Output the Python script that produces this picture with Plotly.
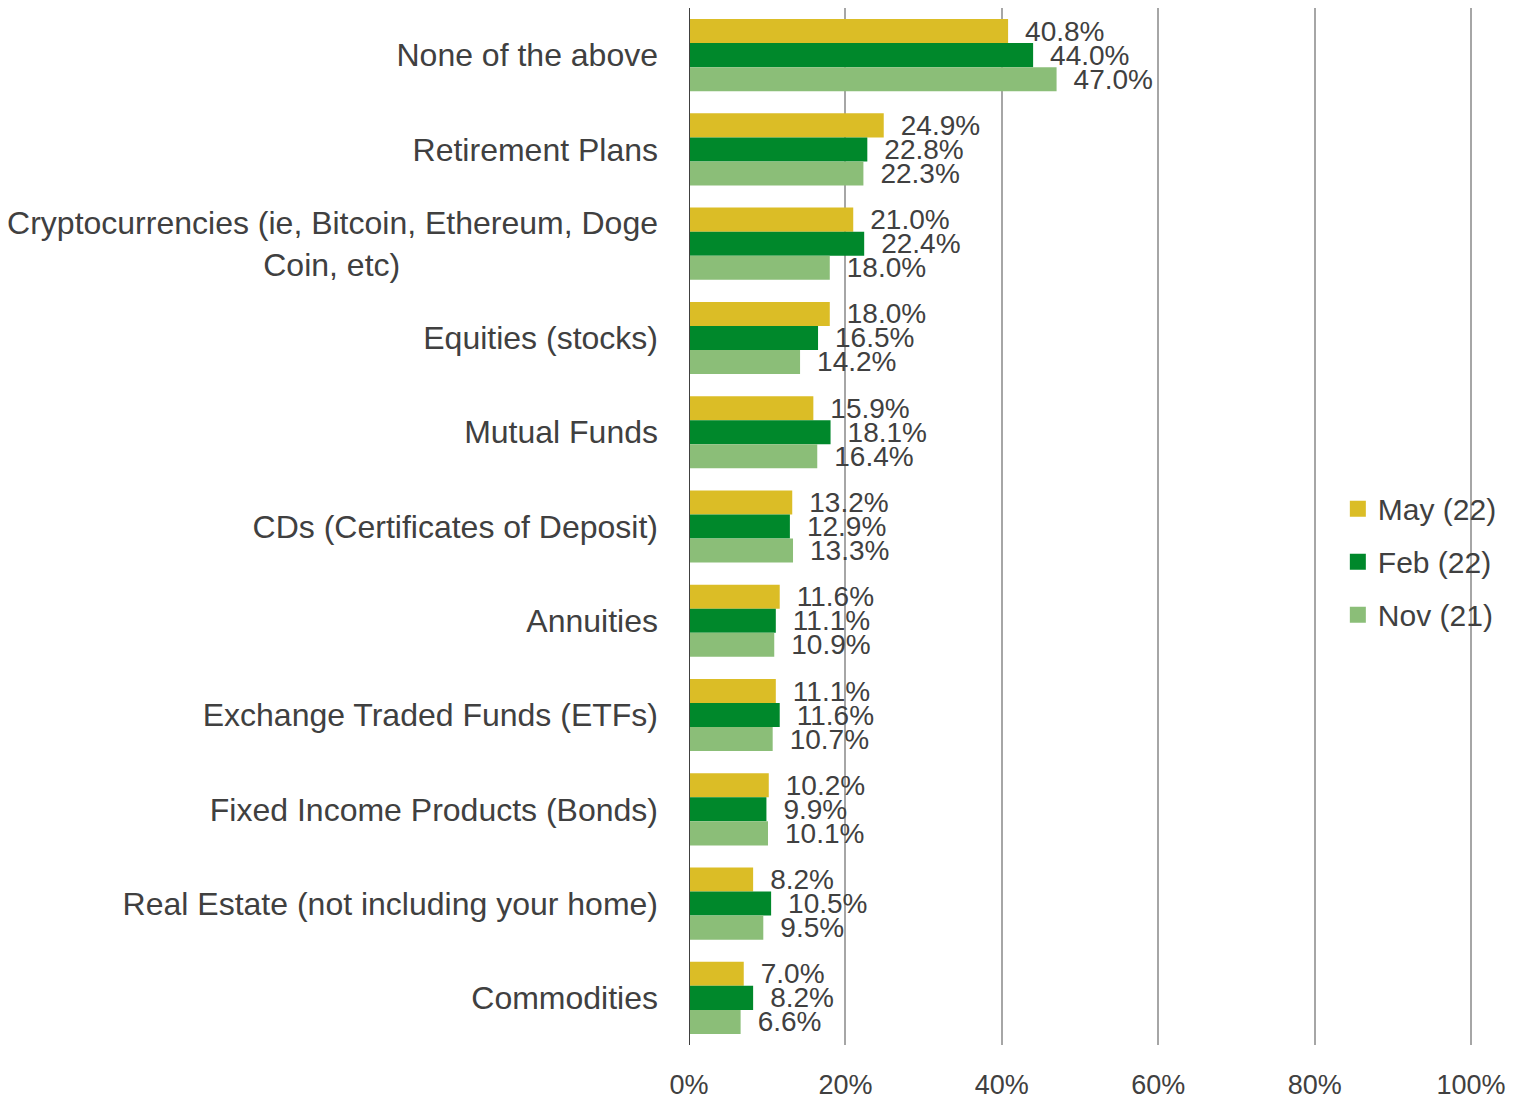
import plotly.graph_objects as go

categories = [
    "None of the above",
    "Retirement Plans",
    "Cryptocurrencies (ie, Bitcoin, Ethereum, Doge<br>Coin, etc)" + " " * 29,
    "Equities (stocks)",
    "Mutual Funds",
    "CDs (Certificates of Deposit)",
    "Annuities",
    "Exchange Traded Funds (ETFs)",
    "Fixed Income Products (Bonds)",
    "Real Estate (not including your home)",
    "Commodities",
]
may_22 = [40.8, 24.9, 21.0, 18.0, 15.9, 13.2, 11.6, 11.1, 10.2, 8.2, 7.0]
feb_22 = [44.0, 22.8, 22.4, 16.5, 18.1, 12.9, 11.1, 11.6, 9.9, 10.5, 8.2]
nov_21 = [47.0, 22.3, 18.0, 14.2, 16.4, 13.3, 10.9, 10.7, 10.1, 9.5, 6.6]
series_names = ["May (22)", "Feb (22)", "Nov (21)"]
colors = ["#DBBD26", "#00882B", "#8BBE78"]
tick_vals = [0, 20, 40, 60, 80, 100]
tick_text = ["0%", "20%", "40%", "60%", "80%", "100%"]

FONT = "Liberation Sans, Arial, sans-serif"
fig = go.Figure()
for i, (name, vals, col) in enumerate(zip(series_names, [may_22, feb_22, nov_21], colors)):
    fig.add_trace(go.Bar(
        y=categories, x=vals, name=name, orientation="h",
        marker=dict(color=col, line=dict(width=0)),
        text=[f"\u2002{v:.1f}%" for v in vals], textposition="outside",
        constraintext="none",
        textfont=dict(size=28, color="#404040", family=FONT),
        cliponaxis=False, showlegend=False,
    ))
    # legend entry with larger square swatch
    fig.add_trace(go.Scatter(
        x=[None], y=[None], mode="markers", name=name,
        marker=dict(symbol="square", size=18, color=col),
        legendgroup=f"g{i}", showlegend=True,
    ))

# page body has an 8px margin: size the figure to the visible area
fig.update_layout(
    width=1522, height=1095,
    barmode="group", bargap=0.235, bargroupgap=0,
    plot_bgcolor="white", paper_bgcolor="white",
    margin=dict(l=681, r=55, t=0, b=58, autoexpand=False),
    font=dict(family=FONT, color="#404040"),
    legend=dict(
        x=0.8255, y=0.466, xanchor="left", yanchor="middle",
        font=dict(size=30, color="#404040", family=FONT),
        bgcolor="rgba(0,0,0,0)", tracegroupgap=11, itemwidth=30,
        itemsizing="trace",
    ),
    xaxis=dict(
        range=[0, 100.5], tickvals=tick_vals, ticktext=tick_text,
        showgrid=True, gridcolor="#A6A6A6", gridwidth=2,
        zeroline=False, showline=False,
        tickfont=dict(size=27, color="#404040", family=FONT),
        ticks="", ticklabelstandoff=21,
    ),
    yaxis=dict(
        autorange="reversed", showgrid=False, zeroline=False,
        showline=False, ticks="",
        tickfont=dict(size=32, color="#404040", family=FONT),
        ticklabelstandoff=30,
    ),
)
fig.add_shape(type="line", xref="x", yref="paper", x0=0, x1=0, y0=0, y1=1,
              line=dict(color="#404040", width=2))
fig.write_html("out.html")
